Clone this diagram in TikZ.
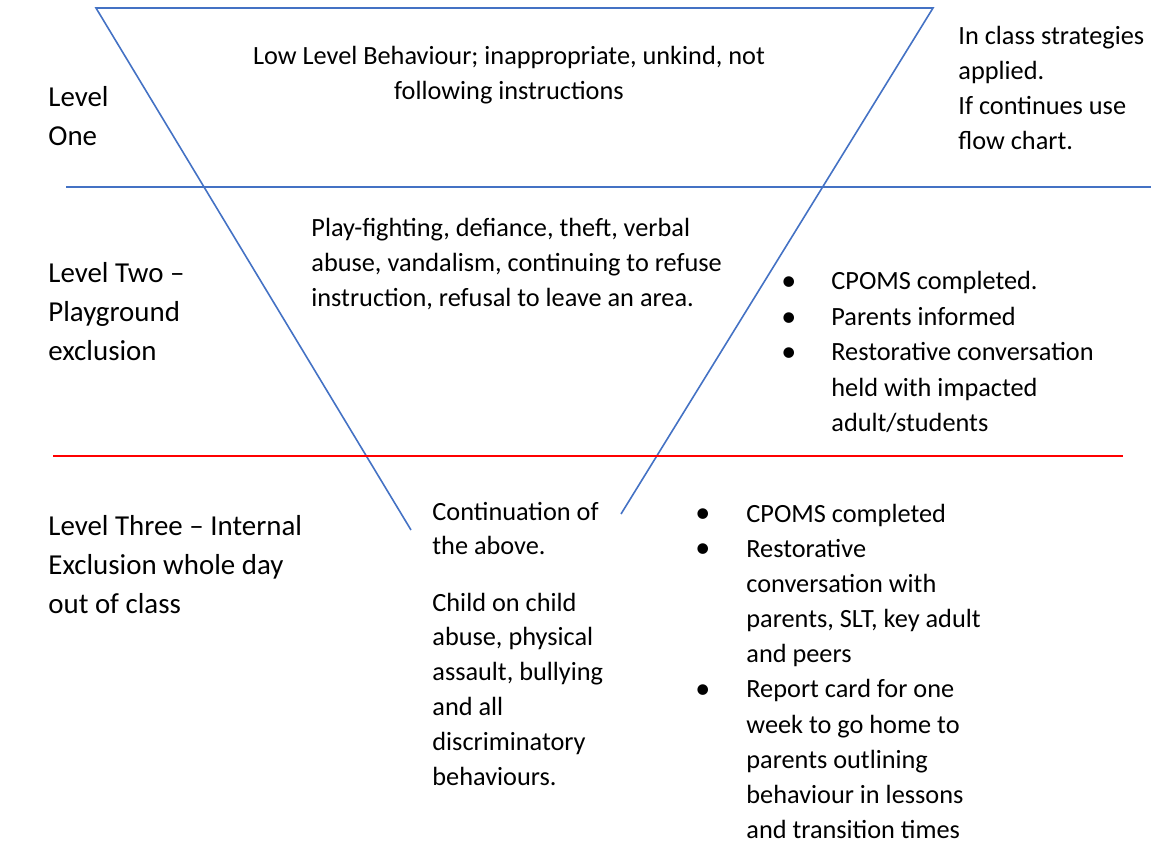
\documentclass[tikz,border=0pt]{standalone}
\usepackage{fontspec}
\setmainfont{Carlito}
\definecolor{lineblue}{HTML}{4472C4}
\definecolor{linered}{HTML}{FF0000}
\tikzset{
  body/.style={inner sep=0pt, anchor=base west, font=\fontsize{13.15pt}{17.4pt}\selectfont},
  bodyc/.style={inner sep=0pt, anchor=base, font=\fontsize{13.15pt}{17.4pt}\selectfont},
  lvl/.style={inner sep=0pt, anchor=base west, font=\fontsize{14.45pt}{19.35pt}\selectfont},
  bluel/.style={draw=lineblue, line width=0.8pt},
  redl/.style={draw=linered, line width=0.8pt}
}
\newcommand{\bul}{\raisebox{-0.03em}{\fontsize{15pt}{15pt}\selectfont\textbullet}}
\begin{document}
\begin{tikzpicture}[x=0.5pt,y=-0.5pt]
\useasboundingbox (0,0) rectangle (1151,855);
% triangle
\coordinate (tl) at (96,8);
\coordinate (tr) at (933,8);
\coordinate (lb) at (411,530);
\coordinate (rb) at (621,514);
\draw[bluel] (lb) -- (tl) -- (tr) -- (rb);
% separators
\coordinate (h1a) at (66,187);
\coordinate (h1b) at (1151,187);
\coordinate (h2a) at (53,456);
\coordinate (h2b) at (1123,456);
\draw[bluel] (h1a) -- (h1b);
\draw[redl] (h2a) -- (h2b);
% level one
\node[bodyc] (low) at (509,65) {\begin{tabular}[t]{@{}c@{}}Low Level Behaviour; inappropriate, unkind, not\\ following instructions\end{tabular}};
\node[lvl] (l1) at (48,107) {\begin{tabular}[t]{@{}l@{}}Level\\ One\end{tabular}};
\node[body] (act1) at (958,45) {\begin{tabular}[t]{@{}l@{}}In class strategies\\ applied.\\ If continues use\\ flow chart.\end{tabular}};
% level two
\node[body] (beh2) at (311,237) {\begin{tabular}[t]{@{}l@{}}Play-fighting, defiance, theft, verbal\\ abuse, vandalism, continuing to refuse\\ instruction, refusal to leave an area.\end{tabular}};
\node[lvl] (l2) at (48,283) {\fontsize{14.45pt}{19.3pt}\selectfont\begin{tabular}[t]{@{}l@{}}Level Two –\\ Playground\\ exclusion\end{tabular}};
\node[body] (act2) at (781,290) {\fontsize{13.15pt}{17.75pt}\selectfont\begin{tabular}[t]{@{}p{25pt}@{}l@{}}\bul & CPOMS completed.\\ \bul & Parents informed\\ \bul & Restorative conversation\\ & held with impacted\\ & adult/students\end{tabular}};
% level three
\node[lvl] (l3) at (48,535) {\fontsize{14.45pt}{19.5pt}\selectfont\begin{tabular}[t]{@{}l@{}}Level Three – Internal\\ Exclusion whole day\\ out of class\end{tabular}};
\node[body] (cont) at (432,520) {\begin{tabular}[t]{@{}l@{}}Continuation of\\ the above.\end{tabular}};
\node[body] (beh3) at (432,611) {\begin{tabular}[t]{@{}l@{}}Child on child\\ abuse, physical\\ assault, bullying\\ and all\\ discriminatory\\ behaviours.\end{tabular}};
\node[body] (act3) at (695,522) {\fontsize{13.15pt}{17.6pt}\selectfont\begin{tabular}[t]{@{}p{25.5pt}@{}l@{}}\bul & CPOMS completed\\ \bul & Restorative\\ & conversation with\\ & parents, SLT, key adult\\ & and peers\\ \bul & Report card for one\\ & week to go home to\\ & parents outlining\\ & behaviour in lessons\\ & and transition times\end{tabular}};
\end{tikzpicture}
\end{document}
